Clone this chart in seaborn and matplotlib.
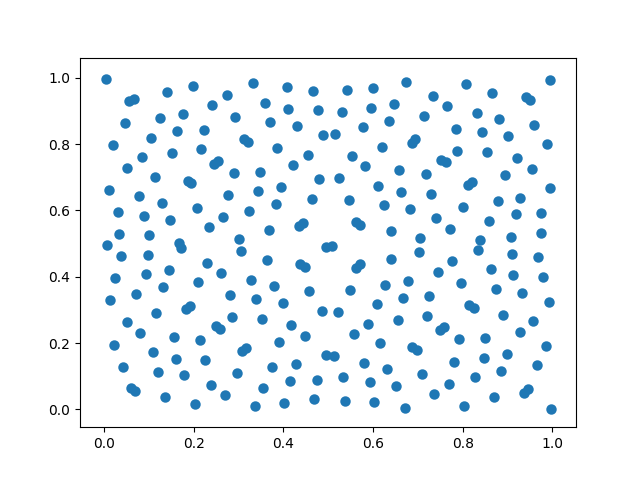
import matplotlib
matplotlib.use("Agg")
import matplotlib.pyplot as plt
import seaborn as sns

# point coordinates
xs = [
    0.005, 0.055, 0.067, 0.140, 0.198, 0.274, 0.241, 0.292, 0.176, 0.124,
    0.046, 0.162, 0.223, 0.104, 0.311, 0.321, 0.019, 0.151, 0.217, 0.084,
    0.245, 0.255, 0.052, 0.289, 0.113, 0.186, 0.194, 0.010, 0.077, 0.276,
    0.128, 0.207, 0.030, 0.088, 0.146, 0.265, 0.323, 0.234, 0.034, 0.099,
    0.301,
    0.333, 0.407, 0.465, 0.541, 0.599, 0.673, 0.359, 0.411, 0.478, 0.530,
    0.595, 0.646, 0.371, 0.431, 0.489, 0.516, 0.577, 0.635, 0.386, 0.619,
    0.454, 0.552, 0.422, 0.583, 0.348, 0.658, 0.480, 0.525, 0.395, 0.344,
    0.611, 0.662, 0.463, 0.546, 0.384, 0.624, 0.434, 0.443, 0.563, 0.572,
    0.368, 0.640,
    0.808, 0.995, 0.734, 0.866, 0.942, 0.951, 0.765, 0.714, 0.833, 0.882,
    0.960, 0.785, 0.844, 0.902, 0.687, 0.694, 0.989, 0.788, 0.855, 0.922,
    0.752, 0.762, 0.954, 0.718, 0.895, 0.813, 0.820, 0.996, 0.729, 0.880,
    0.929, 0.683, 0.801, 0.741, 0.859, 0.918, 0.976, 0.772, 0.705, 0.839,
    0.907, 0.974,
    0.007, 0.167, 0.171, 0.305, 0.037, 0.097, 0.229, 0.025, 0.093, 0.144,
    0.260, 0.209, 0.131, 0.013, 0.072, 0.280, 0.182, 0.191, 0.115, 0.050,
    0.285, 0.249, 0.259, 0.081, 0.155, 0.214, 0.021, 0.108, 0.308, 0.317,
    0.160, 0.225, 0.041, 0.120, 0.178, 0.297, 0.060, 0.069, 0.238, 0.270,
    0.135, 0.202,
    0.496, 0.509, 0.364, 0.438, 0.448, 0.561, 0.570, 0.641, 0.328, 0.380,
    0.458, 0.548, 0.626, 0.678, 0.339, 0.400, 0.485, 0.521, 0.608, 0.667,
    0.353, 0.418, 0.449, 0.557, 0.588, 0.655, 0.391, 0.494, 0.514, 0.615,
    0.375, 0.427, 0.579, 0.631, 0.415, 0.474, 0.532, 0.593, 0.651, 0.355,
    0.337, 0.402, 0.469, 0.537, 0.603, 0.671,
    0.702, 0.834, 0.911, 0.969, 0.776, 0.745, 0.864, 0.797, 0.913, 0.980,
    0.875, 0.933, 0.725, 0.815, 0.825, 0.992, 0.721, 0.891, 0.958, 0.750,
    0.758, 0.792, 0.850, 0.927, 0.688, 0.698, 0.985, 0.781, 0.848, 0.898,
    0.965, 0.709, 0.828, 0.886, 0.770, 0.938, 0.946, 0.736, 0.871, 0.803,
    0.998,
]
ys = [
    0.996, 0.930, 0.937, 0.957, 0.975, 0.948, 0.918, 0.882, 0.891, 0.879,
    0.864, 0.839, 0.842, 0.818, 0.816, 0.806, 0.797, 0.773, 0.785, 0.761,
    0.740, 0.750, 0.728, 0.713, 0.701, 0.689, 0.683, 0.662, 0.644, 0.647,
    0.623, 0.608, 0.596, 0.583, 0.571, 0.580, 0.598, 0.550, 0.529, 0.526,
    0.514,
    0.985, 0.973, 0.960, 0.963, 0.969, 0.988, 0.924, 0.906, 0.903, 0.897,
    0.909, 0.921, 0.867, 0.855, 0.827, 0.830, 0.852, 0.870, 0.788, 0.792,
    0.767, 0.764, 0.737, 0.734, 0.716, 0.722, 0.695, 0.698, 0.671, 0.659,
    0.674, 0.656, 0.635, 0.632, 0.620, 0.617, 0.553, 0.561, 0.566, 0.556,
    0.541, 0.538,
    0.981, 0.993, 0.945, 0.954, 0.942, 0.932, 0.915, 0.885, 0.894, 0.876,
    0.858, 0.845, 0.836, 0.824, 0.804, 0.814, 0.800, 0.779, 0.776, 0.758,
    0.752, 0.746, 0.725, 0.710, 0.707, 0.677, 0.687, 0.668, 0.650, 0.629,
    0.638, 0.605, 0.611, 0.577, 0.568, 0.589, 0.592, 0.544, 0.517, 0.511,
    0.520, 0.532,
    0.496, 0.503, 0.487, 0.478, 0.463, 0.466, 0.442, 0.397, 0.409, 0.421,
    0.412, 0.385, 0.370, 0.330, 0.348, 0.345, 0.302, 0.311, 0.292, 0.264,
    0.279, 0.252, 0.243, 0.231, 0.219, 0.208, 0.195, 0.174, 0.177, 0.184,
    0.153, 0.150, 0.129, 0.114, 0.102, 0.111, 0.064, 0.055, 0.074, 0.044,
    0.036, 0.017,
    0.491, 0.494, 0.451, 0.439, 0.430, 0.427, 0.437, 0.454, 0.391, 0.373,
    0.358, 0.361, 0.376, 0.388, 0.333, 0.321, 0.297, 0.294, 0.318, 0.336,
    0.273, 0.255, 0.222, 0.228, 0.258, 0.270, 0.204, 0.165, 0.162, 0.201,
    0.127, 0.138, 0.141, 0.123, 0.086, 0.089, 0.096, 0.083, 0.071, 0.065,
    0.009, 0.019, 0.032, 0.026, 0.023, 0.005,
    0.475, 0.481, 0.469, 0.460, 0.448, 0.415, 0.424, 0.382, 0.404, 0.400,
    0.364, 0.352, 0.342, 0.314, 0.305, 0.324, 0.282, 0.285, 0.267, 0.240,
    0.248, 0.213, 0.216, 0.234, 0.189, 0.180, 0.192, 0.144, 0.156, 0.168,
    0.135, 0.105, 0.098, 0.117, 0.077, 0.050, 0.060, 0.047, 0.038, 0.011,
    0.001,
]

fig, ax = plt.subplots(figsize=(6.4, 4.8), dpi=100)
# plain matplotlib look: edge drawn in the face colour
sns.scatterplot(x=xs, y=ys, ax=ax, s=36, linewidth=1.5,
                color="#1f77b4", edgecolor="#1f77b4")
ax.set_xlim(-0.054, 1.053)
ax.set_ylim(-0.054, 1.061)

fig.savefig("out.png", dpi=100)
